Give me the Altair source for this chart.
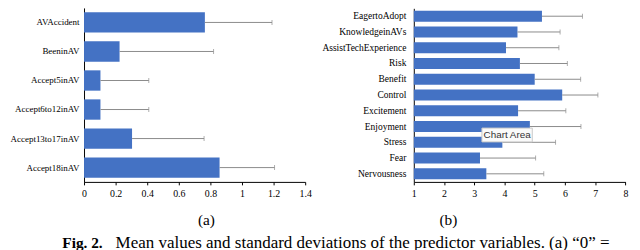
import altair as alt
import pandas as pd

# Panel (a)
cat_a = ["AVAccident", "BeeninAV", "Accept5inAV", "Accept6to12inAV", "Accept13to17inAV", "Accept18inAV"]
mean_a = [0.765, 0.225, 0.104, 0.104, 0.304, 0.858]
sd_a = [0.425, 0.595, 0.306, 0.306, 0.456, 0.348]
ticks_a = [0, 0.2, 0.4, 0.6, 0.8, 1.0, 1.2, 1.4]

# Panel (b)
cat_b = ["EagertoAdopt", "KnowledgeinAVs", "AssistTechExperience", "Risk", "Benefit", "Control",
         "Excitement", "Enjoyment", "Stress", "Fear", "Nervousness"]
mean_b = [5.24, 4.43, 4.05, 4.51, 5.00, 5.91, 4.45, 4.84, 3.93, 3.19, 3.40]
sd_b = [1.34, 1.41, 1.75, 1.57, 1.52, 1.18, 1.58, 1.69, 1.76, 1.84, 1.90]
ticks_b = [1, 2, 3, 4, 5, 6, 7, 8]

caption_a = "(a)"
caption_b = "(b)"
fig_label = "Fig. 2."
fig_text = "Mean values and standard deviations of the predictor variables. (a) \u201c0\u201d ="
tooltip_text = "Chart Area"

df_a = pd.DataFrame({"cat": cat_a, "mean": mean_a, "sd": sd_a})
df_a["end"] = df_a["mean"] + df_a["sd"]
df_b = pd.DataFrame({"cat": cat_b, "mean": mean_b, "sd": sd_b})
df_b["end"] = df_b["mean"] + df_b["sd"]

SERIF = "Liberation Serif"
BAR = "#4472C4"
ERR = "#8a8a8a"

def panel(df, cats, domain, xrange, yrange, ticks, base, lab_size, lab_pad):
    xs = alt.Scale(domain=domain, range=xrange, zero=False, nice=False)
    ys = alt.Scale(domain=cats, range=yrange, paddingInner=0.3, paddingOuter=0.15)
    xaxis = alt.Axis(orient="bottom", values=ticks, format="~g", grid=False, title=None,
                     domainColor="#000", tickColor="#000", tickSize=3, labelColor="#000",
                     labelFont=SERIF, labelFontSize=10, labelPadding=4, labelFlush=False)
    yaxis = alt.Axis(orient="left", offset=-xrange[0], grid=False, title=None, ticks=False,
                     tickSize=0, domainColor="#000", labelColor="#000", labelFont=SERIF,
                     labelFontSize=lab_size, labelPadding=lab_pad, labelLimit=300)
    b = alt.Chart(df).mark_bar(color=BAR).encode(
        x=alt.X("mean:Q", scale=xs, axis=xaxis),
        x2=alt.datum(base),
        y=alt.Y("cat:N", scale=ys, sort=cats, axis=yaxis),
    )
    r = alt.Chart(df).mark_rule(color=ERR, strokeWidth=1).encode(
        x="mean:Q", x2="end:Q", y=alt.Y("cat:N", sort=cats))
    t = alt.Chart(df).mark_tick(color=ERR, size=5, thickness=1, orient="vertical").encode(
        x="end:Q", y=alt.Y("cat:N", sort=cats))
    return alt.layer(b, r, t)

left = panel(df_a, cat_a, [0, 1.4], [77, 301], [-1.7, 174.7], ticks_a, 0, 9.1, 5)
right = panel(df_b, cat_b, [1, 8], [411, 625.3], [-1.3, 174.3], ticks_b, 1, 9.6, 8)

txt = pd.DataFrame({"t": [0]})
cap_a = alt.Chart(txt).mark_text(font=SERIF, fontSize=15.5, baseline="middle", align="center",
                                 color="#000", text=caption_a).encode(x=alt.value(201), y=alt.value(213.5))
cap_b = alt.Chart(txt).mark_text(font=SERIF, fontSize=15.5, baseline="middle", align="center",
                                 color="#000", text=caption_b).encode(x=alt.value(446), y=alt.value(213.5))
fig1 = alt.Chart(txt).mark_text(font=SERIF, fontSize=15.5, fontWeight="bold", baseline="alphabetic",
                                align="left", color="#000", text=fig_label).encode(x=alt.value(55), y=alt.value(241.5))
fig2 = alt.Chart(txt).mark_text(font=SERIF, fontSize=17.2, baseline="alphabetic",
                                align="left", color="#000", text=fig_text).encode(x=alt.value(109), y=alt.value(241.5))
box = alt.Chart(txt).mark_rect(fill="#fafafa", stroke="#c8c8c8", strokeWidth=1).encode(
    x=alt.value(480), x2=alt.value(531), y=alt.value(120), y2=alt.value(134))
box_t = alt.Chart(txt).mark_text(font="Liberation Sans", fontSize=10, color="#333", baseline="middle",
                                 align="center", text=tooltip_text).encode(x=alt.value(505.5), y=alt.value(127))

chart = alt.layer(left, right, cap_a, cap_b, fig1, fig2, box, box_t).resolve_scale(
    x="independent", y="independent").resolve_axis(x="independent", y="independent").properties(
    width=632, height=174.5,
    autosize=alt.AutoSizeParams(type="none"),
    padding={"left": 0, "top": 0, "right": 0, "bottom": 80},
).configure_view(stroke=None).configure_axis(domainWidth=1)

chart.save("out.html", embed_options={"renderer": "svg", "actions": False})
